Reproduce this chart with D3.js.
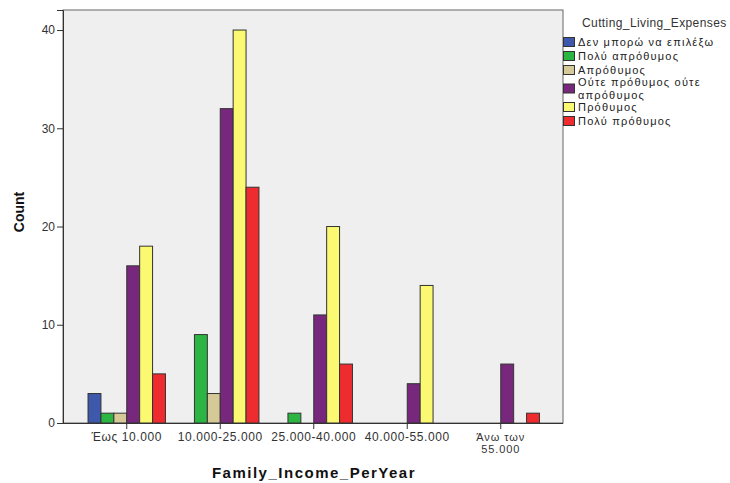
<!DOCTYPE html>
<html>
<head>
<meta charset="utf-8">
<script src="https://cdn.jsdelivr.net/npm/d3@7"></script>
<style>
html,body{margin:0;padding:0;background:#fff;}
svg{display:block;}
text{font-family:Arial,"Liberation Sans",sans-serif;}
</style>
</head>
<body>
<svg id="chart" width="730" height="483"></svg>
<script>
const categories = ["Έως 10.000", "10.000-25.000", "25.000-40.000", "40.000-55.000", "Άνω των 55.000"];
const seriesNames = ["Δεν μπορώ να επιλέξω", "Πολύ απρόθυμος", "Απρόθυμος", "Ούτε πρόθυμος ούτε απρόθυμος", "Πρόθυμος", "Πολύ πρόθυμος"];
const cantChoose = [3, 0, 0, 0, 0];
const veryUnwilling = [1, 9, 1, 0, 0];
const unwilling = [1, 3, 0, 0, 0];
const neither = [16, 32, 11, 4, 6];
const willing = [18, 40, 20, 14, 0];
const veryWilling = [5, 24, 6, 0, 1];
const seriesValues = [cantChoose, veryUnwilling, unwilling, neither, willing, veryWilling];
const colors = ["#3E58AC", "#2DB544", "#D4C997", "#77287C", "#FBF872", "#EE2C2F"];
const yTicks = [0, 10, 20, 30, 40];

const svg = d3.select("#chart");
const plot = {left: 63, right: 563, top: 10, bottom: 423};
const FONT = "Arial, 'Liberation Sans', sans-serif";

svg.append("rect").attr("x", plot.left).attr("y", plot.top)
  .attr("width", plot.right - plot.left).attr("height", plot.bottom - plot.top)
  .attr("fill", "#EFEFEF").attr("stroke", "#666").attr("stroke-width", 1);

const x0 = d3.scaleBand().domain(categories).range([80, 547.5]).paddingInner(0.172).paddingOuter(0.086);
const x1 = d3.scaleBand().domain(seriesNames).range([0, x0.bandwidth()]);
const y = d3.scaleLinear().domain([0, 42.04]).range([plot.bottom, plot.top]);

const data = [];
categories.forEach((c, ci) => {
  seriesNames.forEach((s, si) => {
    const v = seriesValues[si][ci];
    if (v > 0) data.push({c, s, v, color: colors[si]});
  });
});

svg.append("g").selectAll("rect").data(data).join("rect")
  .attr("x", d => x0(d.c) + x1(d.s))
  .attr("y", d => y(d.v))
  .attr("width", x1.bandwidth())
  .attr("height", d => y(0) - y(d.v))
  .attr("fill", d => d.color)
  .attr("stroke", "#333")
  .attr("stroke-width", 1);

// Y axis
const yAxis = svg.append("g").attr("transform", `translate(${plot.left},0)`)
  .call(d3.axisLeft(y).tickValues(yTicks).tickSize(6).tickPadding(2).tickFormat(d3.format("d")));
yAxis.select(".domain").attr("stroke", "#333");
yAxis.selectAll(".tick line").attr("stroke", "#333");
yAxis.selectAll(".tick text").attr("font-size", 12).attr("fill", "#333").attr("font-family", FONT);

// X axis
const xAxis = svg.append("g").attr("transform", `translate(0,${plot.bottom})`)
  .call(d3.axisBottom(x0).tickSize(6).tickSizeOuter(0).tickFormat(() => ""));
xAxis.select(".domain").attr("stroke", "#333").attr("d", `M${plot.left},0.5H${plot.right}`);
xAxis.selectAll(".tick line").attr("stroke", "#333");
xAxis.selectAll(".tick").each(function(d) {
  const g = d3.select(this);
  const t = g.append("text").attr("fill", "#333")
    .attr("text-anchor", "middle").attr("font-family", FONT);
  if (d === "Άνω των 55.000") {
    t.attr("font-size", 11).attr("letter-spacing", 0.9);
    t.append("tspan").attr("x", 0).attr("y", 17.5).text("Άνω των");
    t.append("tspan").attr("x", 0).attr("y", 30).text("55.000");
  } else {
    t.attr("font-size", 12).attr("letter-spacing", 0.6);
    t.append("tspan").attr("x", 0).attr("y", 18).text(d);
  }
});

// Axis titles
svg.append("text").attr("x", 314).attr("y", 478).attr("text-anchor", "middle")
  .attr("font-size", 15).attr("font-weight", "bold").attr("letter-spacing", 1.5).attr("fill", "#111")
  .text("Family_Income_PerYear");
svg.append("text").attr("transform", "translate(24,212) rotate(-90)").attr("text-anchor", "middle")
  .attr("font-size", 14).attr("font-weight", "bold").attr("fill", "#111")
  .text("Count");

// Legend
const lg = svg.append("g");
lg.append("text").attr("x", 582).attr("y", 27).attr("font-size", 12).attr("letter-spacing", 0.4).attr("fill", "#333")
  .text("Cutting_Living_Expenses");
const rows = [
  {lines: ["Δεν μπορώ να επιλέξω"], y: 42},
  {lines: ["Πολύ απρόθυμος"], y: 56},
  {lines: ["Απρόθυμος"], y: 70},
  {lines: ["Ούτε πρόθυμος ούτε", "απρόθυμος"], y: 88.5},
  {lines: ["Πρόθυμος"], y: 107},
  {lines: ["Πολύ πρόθυμος"], y: 121}
];
rows.forEach((r, i) => {
  lg.append("rect").attr("x", 563.5).attr("y", r.y - 4.5).attr("width", 11).attr("height", 9)
    .attr("fill", colors[i]).attr("stroke", "#333").attr("stroke-width", 1);
  const t = lg.append("text").attr("font-size", 11).attr("letter-spacing", 1.2).attr("fill", "#222");
  if (r.lines.length === 1) {
    t.append("tspan").attr("x", 578).attr("y", r.y + 4).text(r.lines[0]);
  } else {
    t.append("tspan").attr("x", 578).attr("y", r.y - 2.5).text(r.lines[0]);
    t.append("tspan").attr("x", 578).attr("y", r.y + 10).text(r.lines[1]);
  }
});
</script>
</body>
</html>
